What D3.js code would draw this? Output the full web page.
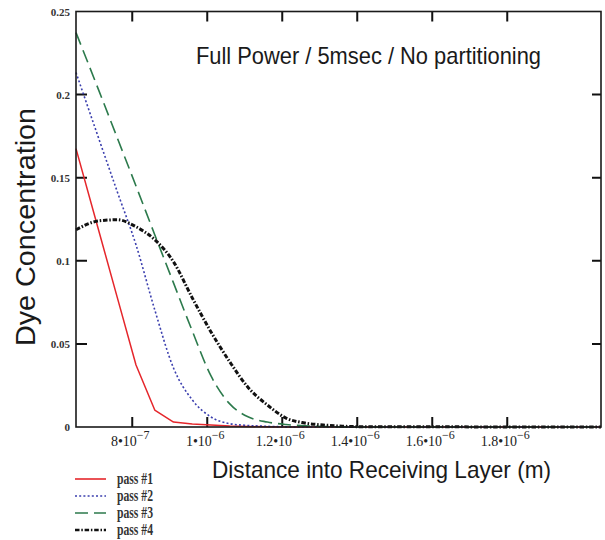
<!DOCTYPE html>
<html>
<head>
<meta charset="utf-8">
<script src="https://cdn.jsdelivr.net/npm/d3@7"></script>
<style>
  body { margin: 0; background: #fff; }
  svg { display: block; }
</style>
</head>
<body>
<div id="chart"></div>
<script>
// distance into receiving layer (m)
const xs = [6.5e-7, 7.1e-7, 7.6e-7, 8.1e-7, 8.6e-7, 9.1e-7, 9.6e-7, 1.01e-6, 1.06e-6,
            1.11e-6, 1.16e-6, 1.21e-6, 1.26e-6, 1.31e-6, 1.36e-6, 1.41e-6, 2.05e-6];

const pass1 = [0.1675, 0.1187, 0.078, 0.0373, 0.0102, 0.003, 0.0018, 0.0012, 0.0006,
               0.0003, 0.0001, 0, 0, 0, 0, 0, 0];
const pass2 = [0.2133, 0.174, 0.1416, 0.1096, 0.0705, 0.0355, 0.0163, 0.006, 0.002,
               0.0009, 0.0004, 0.0001, 0, 0, 0, 0, 0];
const pass3 = [0.2373, 0.203, 0.174, 0.145, 0.1157, 0.0867, 0.0578, 0.0307, 0.0139,
               0.006, 0.003, 0.0015, 0.0007, 0.0003, 0.0001, 0, 0];
const pass4 = [0.1187, 0.124, 0.1247, 0.1205, 0.1127, 0.0994, 0.0777, 0.0572, 0.0392,
               0.0235, 0.0133, 0.0054, 0.0024, 0.0012, 0.0005, 0.0002, 0];

const seriesNames = ["pass #1", "pass #2", "pass #3", "pass #4"];

const xTicks = [8e-7, 1e-6, 1.2e-6, 1.4e-6, 1.6e-6, 1.8e-6];
const xTickMant = ["8", "1", "1.2", "1.4", "1.6", "1.8"];
const xTickExp = ["\u22127", "\u22126", "\u22126", "\u22126", "\u22126", "\u22126"];
const yTicks = [0, 0.05, 0.1, 0.15, 0.2, 0.25];
const yTickLabels = ["0", "0.05", "0.1", "0.15", "0.2", "0.25"];

const titleText = "Full Power / 5msec / No partitioning";
const xTitle = "Distance into Receiving Layer (m)";
const yTitle = "Dye Concentration";

const w = 605, h = 540;
const svg = d3.select("#chart").append("svg")
  .attr("width", w).attr("height", h);

const x = d3.scaleLinear().domain([6.5e-7, 2.05e-6]).range([76, 601]);
const y = d3.scaleLinear().domain([0, 0.25]).range([427, 11.5]);

const styles = [
  {color: "#e5262b", width: 1.5, dash: null, curve: d3.curveLinear},
  {color: "#3b3fae", width: 1.6, dash: "2,2.2", curve: d3.curveMonotoneX},
  {color: "#2c7a4c", width: 1.6, dash: "13,6", curve: d3.curveMonotoneX},
  {color: "#111", width: 3, dash: "4.5,1.8,1.5,1.8", curve: d3.curveMonotoneX}
];

const serif = "'Liberation Serif', 'Times New Roman', serif";
const sans = "'Liberation Sans', Arial, sans-serif";

const [x0, x1] = x.range();
const [y0, y1] = y.range();

// tick marks first, as one path (inward on all four sides)
const tickPath = d3.path();
xTicks.forEach(d => {
  tickPath.moveTo(x(d), y0); tickPath.lineTo(x(d), y0 - 10);
  tickPath.moveTo(x(d), y1); tickPath.lineTo(x(d), y1 + 10);
});
yTicks.slice(1, -1).forEach(d => {
  tickPath.moveTo(x0, y(d)); tickPath.lineTo(x0 + 11, y(d));
  tickPath.moveTo(x1, y(d)); tickPath.lineTo(x1 - 9, y(d));
});
svg.append("path")
  .attr("d", tickPath.toString())
  .attr("fill", "none")
  .attr("stroke", "#111")
  .attr("stroke-width", 2);

// lines
const all = [pass1, pass2, pass3, pass4];
const plot = svg.append("g");
all.forEach(function (vals, i) {
  const s = styles[i];
  const line = d3.line()
    .x((d, j) => x(xs[j]))
    .y(d => y(d))
    .curve(s.curve);
  plot.append("path")
    .attr("d", line(vals))
    .attr("fill", "none")
    .attr("stroke", s.color)
    .attr("stroke-width", s.width)
    .attr("stroke-dasharray", s.dash)
    .attr("stroke-linejoin", "round");
});

// frame
svg.append("rect")
  .attr("x", x0).attr("y", y1)
  .attr("width", x1 - x0).attr("height", y0 - y1)
  .attr("fill", "none")
  .attr("stroke", "#1a1a1a")
  .attr("stroke-width", 1.6);

// y tick labels
svg.append("g").selectAll("text")
  .data(yTicks)
  .join("text")
  .attr("x", 70)
  .attr("y", d => y(d) + 4)
  .attr("text-anchor", "end")
  .attr("font-family", serif)
  .attr("font-weight", "bold")
  .attr("font-size", 11)
  .attr("fill", "#333")
  .text((d, i) => yTickLabels[i]);

// x tick labels: mantissa•10 with superscript exponent
const xl = svg.append("g").selectAll("text")
  .data(xTicks)
  .join("text")
  .attr("x", d => x(d) - 2)
  .attr("y", 446)
  .attr("text-anchor", "middle")
  .attr("font-family", serif)
  .attr("font-size", 14)
  .attr("fill", "#222");
xl.append("tspan").text((d, i) => xTickMant[i] + "\u202210");
xl.append("tspan")
  .attr("dy", -7)
  .attr("font-size", 12)
  .text((d, i) => xTickExp[i]);

// titles
svg.append("text")
  .attr("x", 196).attr("y", 64)
  .attr("font-family", sans)
  .attr("font-size", 24)
  .attr("fill", "#1a1a1a")
  .attr("textLength", 345)
  .attr("lengthAdjust", "spacingAndGlyphs")
  .text(titleText);

svg.append("text")
  .attr("x", 212).attr("y", 478)
  .attr("font-family", sans)
  .attr("font-size", 24)
  .attr("fill", "#1a1a1a")
  .attr("textLength", 339)
  .attr("lengthAdjust", "spacingAndGlyphs")
  .text(xTitle);

svg.append("text")
  .attr("transform", "translate(35,346) rotate(-90)")
  .attr("font-family", sans)
  .attr("font-size", 27)
  .attr("fill", "#1a1a1a")
  .attr("textLength", 238)
  .attr("lengthAdjust", "spacingAndGlyphs")
  .text(yTitle);

// legend
const legendY = [479, 496, 513, 530];
const lg = svg.append("g");
seriesNames.forEach(function (name, i) {
  const s = styles[i];
  lg.append("line")
    .attr("x1", 75).attr("x2", 106)
    .attr("y1", legendY[i]).attr("y2", legendY[i])
    .attr("stroke", s.color)
    .attr("stroke-width", i === 3 ? 2.6 : 1.6)
    .attr("stroke-dasharray", s.dash);
  lg.append("text")
    .attr("x", 117).attr("y", legendY[i] + 5)
    .attr("font-family", serif)
    .attr("font-weight", "bold")
    .attr("font-size", 16)
    .attr("fill", "#333")
    .attr("textLength", 36)
    .attr("lengthAdjust", "spacingAndGlyphs")
    .text(name);
});
</script>
</body>
</html>
